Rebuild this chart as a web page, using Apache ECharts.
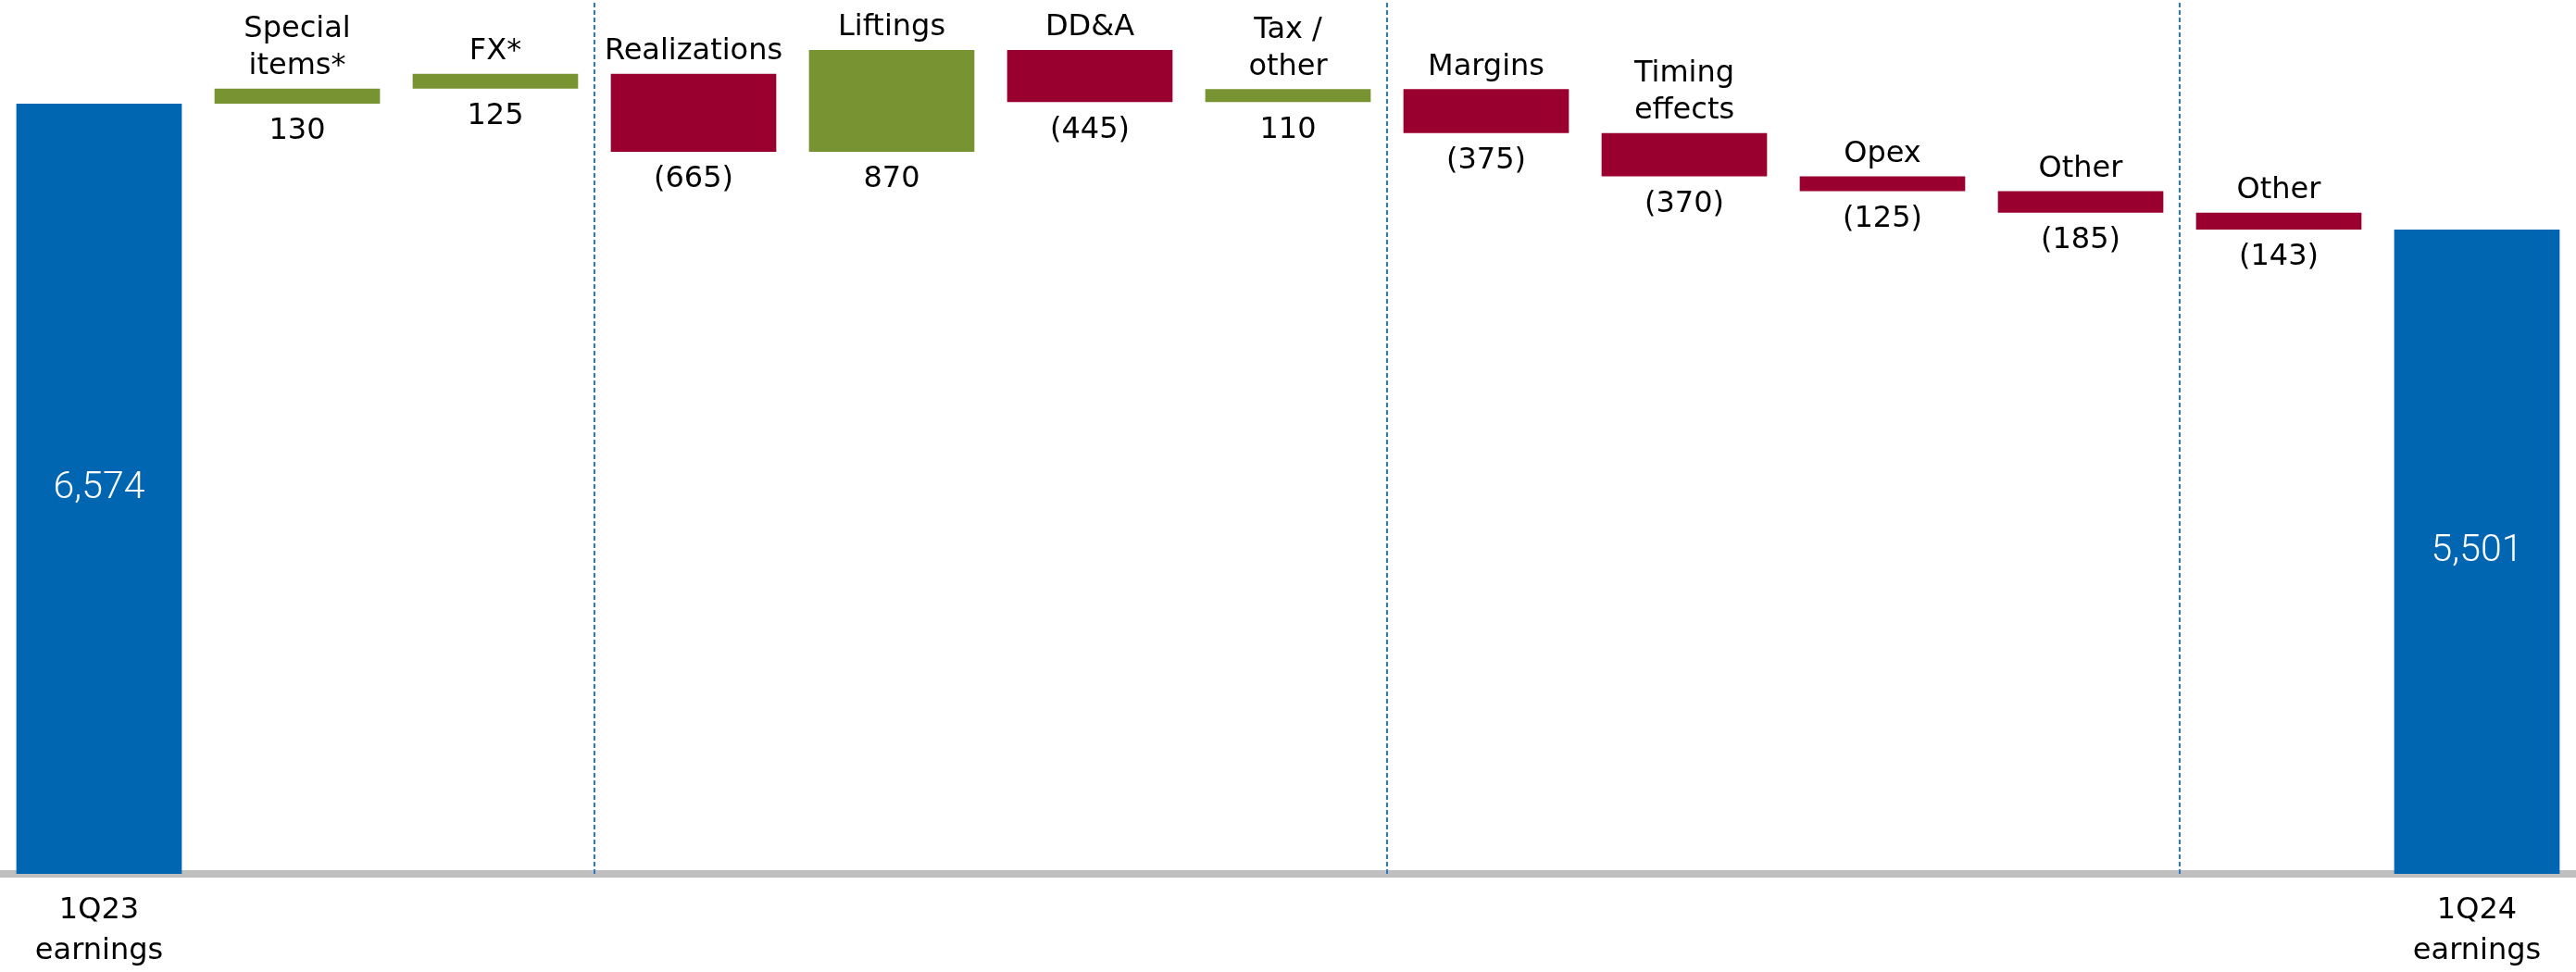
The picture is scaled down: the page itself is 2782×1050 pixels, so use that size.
<!DOCTYPE html>
<html>
<head>
<meta charset="utf-8">
<script src="https://cdn.jsdelivr.net/npm/echarts@6/dist/echarts.min.js"></script>
<style>
html,body{margin:0;padding:0;background:#fff;}
#chart{width:2782px;height:1050px;}
</style>
</head>
<body>
<div id="chart"></div>
<script>
// ---- data ----
const categories = ['1Q23 earnings','Special items*','FX*','Realizations','Liftings','DD&A','Tax / other','Margins','Timing effects','Opex','Other','Other','1Q24 earnings'];
const categoryLabels = ['1Q23\nearnings','Special\nitems*','FX*','Realizations','Liftings','DD&A','Tax /\nother','Margins','Timing\neffects','Opex','Other','Other','1Q24\nearnings'];
const startTotal = 6574;
const endTotal = 5501;
const changes = [130, 125, -665, 870, -445, 110, -375, -370, -125, -185, -143];
const valueLabels = ['6,574','130','125','(665)','870','(445)','110','(375)','(370)','(125)','(185)','(143)','5,501'];
const dividers = [3, 7, 11];

// ---- styles ----
const BLUE = '#0066b2', RED = '#990030', GREEN = '#789432';
const FONT = '"DejaVu Sans", sans-serif';
const FONT_TOTAL = 'Roboto, sans-serif';

// ---- build waterfall ----
const baseData = [], barData = [];
const totalLabel = (txt) => ({show: true, position: 'inside', color: '#fff', fontSize: 41,
  fontWeight: 300, fontFamily: FONT_TOTAL, formatter: txt});
let running = startTotal;
baseData.push({value: 0, label: {show: false}});
barData.push({value: startTotal, itemStyle: {color: BLUE}, label: totalLabel(valueLabels[0])});
changes.forEach((d, i) => {
  const next = running + d;
  baseData.push({value: Math.min(running, next),
    label: {show: true, position: 'insideTop', formatter: valueLabels[i + 1]}});
  barData.push({value: Math.abs(d), itemStyle: {color: d >= 0 ? GREEN : RED},
    label: {show: true, position: 'top', formatter: categoryLabels[i + 1]}});
  running = next;
});
baseData.push({value: 0, label: {show: false}});
barData.push({value: endTotal, itemStyle: {color: BLUE}, label: totalLabel(valueLabels[12])});

const chart = echarts.init(document.getElementById('chart'), null, {renderer: 'canvas'});
chart.setOption({
  animation: false,
  backgroundColor: '#fff',
  textStyle: {fontFamily: FONT},
  grid: {left: 0, right: 0, top: 0, bottom: 106},
  xAxis: [{
    type: 'category',
    data: categories,
    offset: 4,
    axisLine: {lineStyle: {color: '#bfbfbf', width: 8}},
    axisTick: {show: false},
    axisLabel: {
      interval: 0, margin: 14, color: '#000', fontSize: 32, lineHeight: 44, fontFamily: FONT,
      formatter: (v, i) => (i === 0 || i === categories.length - 1) ? categoryLabels[i] : ''
    }
  }, {
    type: 'value', min: 0, max: categories.length, show: false
  }],
  yAxis: {type: 'value', min: 0, max: 7460, show: false, splitLine: {show: false}},
  series: [{
    name: 'base', type: 'bar', stack: 'w', barWidth: '83.5%',
    itemStyle: {color: 'transparent'},
    label: {color: '#000', fontSize: 32, lineHeight: 40, distance: 10, fontFamily: FONT},
    emphasis: {disabled: true},
    data: baseData
  }, {
    name: 'change', type: 'bar', stack: 'w', barWidth: '83.5%',
    label: {color: '#000', fontSize: 32, distance: 4, lineHeight: 40, fontFamily: FONT},
    emphasis: {disabled: true},
    data: barData
  }, {
    name: 'dividers', type: 'scatter', xAxisIndex: 1, data: [],
    markLine: {
      silent: true, symbol: 'none', label: {show: false},
      lineStyle: {color: '#2a78c8', type: [5, 3], width: 2},
      data: dividers.map(x => ({xAxis: x}))
    }
  }]
});
</script>
</body>
</html>
